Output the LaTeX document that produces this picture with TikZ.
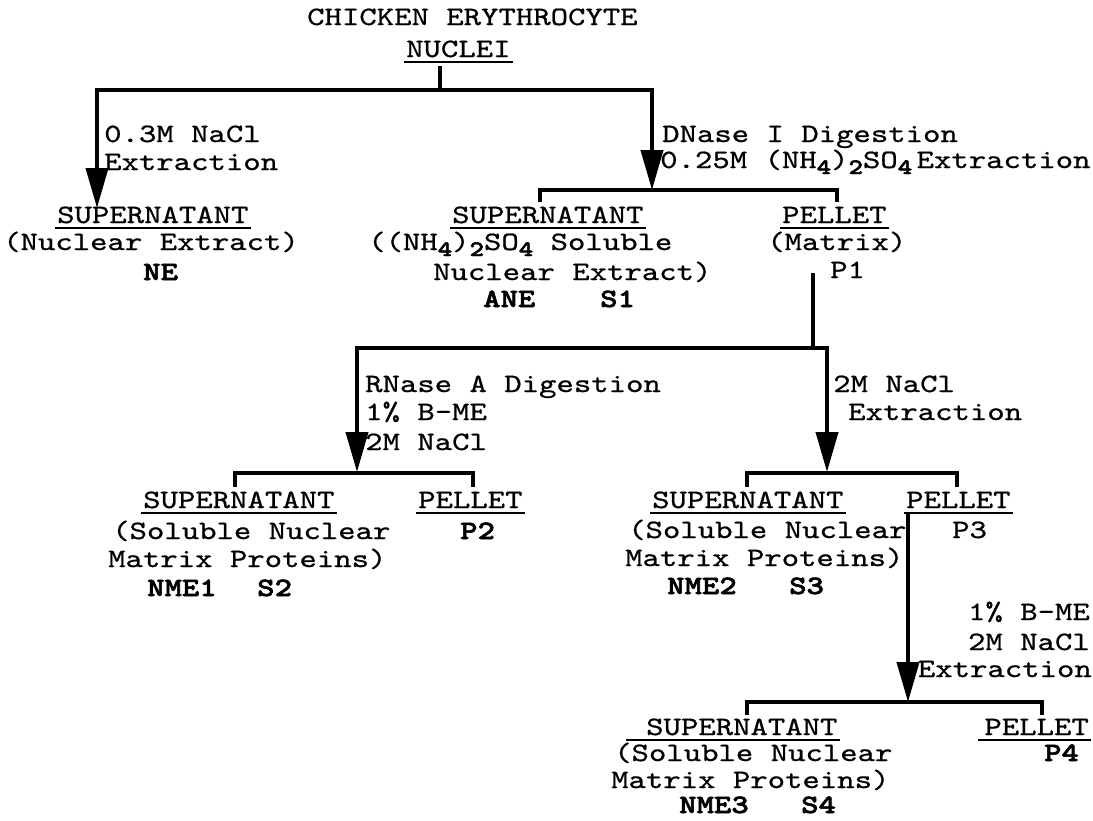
\documentclass[tikz,border=0pt]{standalone}
\usepackage{fontspec}
\usetikzlibrary{arrows.meta}
\newfontfamily\cour{lmmono10-regular.otf}[FakeStretch=1.25,FakeBold=0.8]
\newfontfamily\courb{lmmonolt10-bold.otf}[FakeStretch=1.25,FakeBold=2.2]
\newcommand\sz{\fontsize{26.5pt}{28pt}\selectfont}
\newcommand\subn[1]{\raisebox{-6pt}{\courb\fontsize{22pt}{22pt}\selectfont #1}}
\newcommand\ulnode[2][0pt]{\draw[ul] ([shift={(-2pt-#1,-5pt)}]#2.base west) -- ([shift={(2pt,-5pt)}]#2.base east);}
\tikzset{
 txt/.style={inner sep=0pt, anchor=base west, font=\cour\sz},
 btxt/.style={inner sep=0pt, anchor=base west, font=\courb\sz},
 ln/.style={line width=4pt, line cap=butt, line join=miter},
 arr/.style={ln, -{Triangle[length=40pt,width=22pt]}},
 ul/.style={line width=1.8pt},
}
\begin{document}
\begin{tikzpicture}[x=1pt,y=-1pt]
\useasboundingbox (0,0) rectangle (1093,820);
% top
\node[txt] (title) at (307,25) {CHICKEN ERYTHROCYTE};
\node[txt] (nuclei) at (406,57) {NUCLEI};
\ulnode{nuclei}
\coordinate (s0) at (440,66);
\coordinate (j1) at (440,90);
\coordinate (c1L) at (97,90); \coordinate (t1L) at (97,208);
\coordinate (c1R) at (652,90); \coordinate (t1R) at (652,190);
\draw[ln] (s0) -- (j1);
\draw[arr] (j1) -- (c1L) -- (t1L);
\draw[arr] (j1) -- (c1R) -- (t1R);
\node[txt] (l1a) at (104,142) {0.3M NaCl};
\node[txt] (l1b) at (104,170) {Extraction};
\node[txt] (l2a) at (662,142) {DNase I Digestion};
\node[txt] (l2b) at (660,168) {0.25M (NH\subn{4})\subn{2}SO\subn{4}\,Extraction};
% bar 2
\coordinate (b2a) at (540,202); \coordinate (b2b) at (540,190);
\coordinate (b2c) at (837,190); \coordinate (b2d) at (837,202);
\draw[ln] (b2a) -- (b2b) -- (b2c) -- (b2d);
% left column
\node[txt] (sup0) at (57,223) {SUPERNATANT};
\ulnode{sup0}
\node[txt] (ne1) at (3,250) {(Nuclear Extract)};
\node[btxt] (ne2) at (143,280) {NE};
% middle column
\node[txt] (sup1) at (452,223) {SUPERNATANT};
\ulnode{sup1}
\node[txt] (ane1) at (368,250) {((NH\subn{4})\subn{2}SO\subn{4} Soluble};
\node[txt] (ane2) at (433,280) {Nuclear Extract)};
\node[btxt] (ane3) at (483,307) {ANE};
\node[btxt] (s1) at (600,307) {S1};
% pellet 1
\node[txt] (pel1) at (782,223) {PELLET};
\ulnode{pel1}
\node[txt] (mat) at (767,250) {(Matrix)};
\node[txt] (p1) at (830,278) {P1};
% second level
\coordinate (s3) at (813,273); \coordinate (j3) at (813,348);
\coordinate (c3L) at (357,348); \coordinate (t3L) at (357,472);
\coordinate (c3R) at (827,348); \coordinate (t3R) at (827,472);
\draw[ln] (s3) -- (j3);
\draw[arr] (j3) -- (c3L) -- (t3L);
\draw[arr] (j3) -- (c3R) -- (t3R);
\node[txt] (r1) at (365,392) {RNase A Digestion};
\node[txt] (r2) at (365,420) {1\% B-ME};
\node[txt] (r3) at (365,450) {2M NaCl};
\node[txt] (n1) at (833,392) {2M NaCl};
\node[txt] (n2) at (848,420) {Extraction};
% bar 4
\coordinate (b4a) at (235,487); \coordinate (b4b) at (235,473);
\coordinate (b4c) at (473,473); \coordinate (b4d) at (473,487);
\draw[ln] (b4a) -- (b4b) -- (b4c) -- (b4d);
\node[txt] (sup2) at (143,508) {SUPERNATANT};
\ulnode{sup2}
\node[txt] (sn2a) at (112,539) {(Soluble Nuclear};
\node[txt] (sn2b) at (108,567) {Matrix Proteins)};
\node[btxt] (nme1) at (147,596) {NME1};
\node[btxt] (s2) at (257,596) {S2};
\node[txt] (pel2) at (418,508) {PELLET};
\ulnode{pel2}
\node[btxt] (p2) at (460,539) {P2};
% bar 5
\coordinate (b5a) at (747,487); \coordinate (b5b) at (747,473);
\coordinate (b5c) at (957,473); \coordinate (b5d) at (957,487);
\draw[ln] (b5a) -- (b5b) -- (b5c) -- (b5d);
\node[txt] (sup3) at (652,508) {SUPERNATANT};
\ulnode{sup3}
\node[txt] (sn3a) at (628,538) {(Soluble Nuclear};
\node[txt] (sn3b) at (625,566) {Matrix Proteins)};
\node[btxt] (nme2) at (667,594) {NME2};
\node[btxt] (s3t) at (789,594) {S3};
\node[txt] (pel3) at (906,508) {PELLET};
\ulnode{pel3}
\node[txt] (p3) at (952,538) {P3};
% third arrow
\coordinate (s6) at (908,514); \coordinate (t6) at (908,702);
\draw[arr] (s6) -- (t6);
\node[txt, anchor=base east] (m1) at (1090,620) {1\%  B-ME};
\node[txt, anchor=base east] (m2) at (1090,650) {2M  NaCl};
\node[txt, anchor=base east] (m3) at (1092,677) {Extraction};
% bar 6
\coordinate (b6a) at (747,715); \coordinate (b6b) at (747,702);
\coordinate (b6c) at (1042,702); \coordinate (b6d) at (1042,715);
\draw[ln] (b6a) -- (b6b) -- (b6c) -- (b6d);
\node[txt] (sup4) at (646,735) {SUPERNATANT};
\ulnode[18pt]{sup4}
\node[txt] (sn4a) at (614,761) {(Soluble Nuclear};
\node[txt] (sn4b) at (611,788) {Matrix Proteins)};
\node[btxt] (nme3) at (679,813) {NME3};
\node[btxt] (s4) at (801,813) {S4};
\node[txt, anchor=base east] (pel4) at (1089,735) {PELLET};
\ulnode[4pt]{pel4}
\node[btxt] (p4) at (1044,761) {P4};
\end{tikzpicture}
\end{document}
